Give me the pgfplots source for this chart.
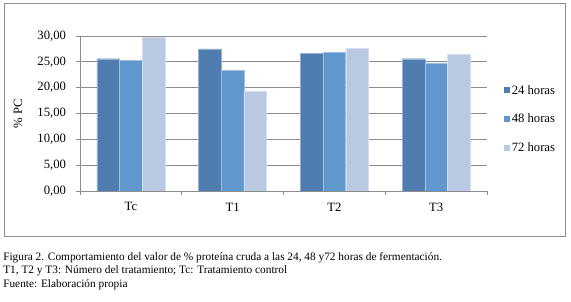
\documentclass[border=0pt]{standalone}
\usepackage{fontspec}
\setmainfont{Liberation Serif}
\usepackage{pgfplots}
\pgfplotsset{compat=1.18}
\definecolor{cA}{HTML}{4F7DB0}
\definecolor{cB}{HTML}{6097CD}
\definecolor{cC}{HTML}{B9C9E1}
\definecolor{gridgray}{HTML}{8C8C8C}
\begin{document}
\begin{tikzpicture}
\path[use as bounding box] (0pt,0pt) rectangle (428.25pt,226.5pt);
\begin{axis}[at={(3.2pt,48.9pt)}, anchor=south west, scale only axis,
  width=421.2pt, height=175.1pt, xmin=0, xmax=1, ymin=0, ymax=1,
  xtick=\empty, ytick=\empty, axis line style={gridgray, line width=0.9pt}]
\addplot[draw=none] coordinates {(0.5,0.5)};
\end{axis}
\begin{axis}[at={(60pt,83.25pt)}, anchor=south west, scale only axis,
  width=305.25pt, height=116.25pt,
  ybar=0pt, bar width=17pt,
  xmin=-0.5, xmax=3.5, ymin=0, ymax=30,
  xtick={0,1,2,3}, xticklabels={Tc,T1,T2,T3},
  major x tick style={draw=none},
  minor xtick={-0.5,0.5,1.5,2.5,3.5},
  ytick={0,5,10,15,20,25,30},
  tick align=outside, major tick length=3pt, minor tick length=3pt,
  axis x line*=bottom, axis y line*=left,
  axis line style={gridgray,line width=0.6pt,-},
  tick style={gridgray, line width=0.6pt},
  ymajorgrids, grid style={gridgray, line width=0.6pt},
  ticklabel style={font=\fontsize{9.5}{11}\selectfont},
  xticklabel style={yshift=-2.25pt},
  yticklabel style={xshift=-4pt, /pgf/number format/.cd, fixed, fixed zerofill, precision=2, use comma, assume math mode=true},
  legend style={at={(1.032,0.461)}, anchor=west, draw=none, fill=none,
    font=\fontsize{9.5}{11}\selectfont, row sep=11.6pt,
    nodes={inner sep=1pt}},
  legend cell align=left,
  legend image code/.code={\fill[#1,draw=none] (0pt,-2.1pt) rectangle (4.6pt,2.5pt);},
]
\addplot[fill=cA, draw=white!40!cA, line width=0.3pt] coordinates {(0,25.6) (1,27.5) (2,26.7) (3,25.6)};
\addplot[fill=cB, draw=white!40!cB, line width=0.3pt] coordinates {(0,25.35) (1,23.4) (2,26.8) (3,24.8)};
\addplot[fill=cC, draw=white!40!cC, line width=0.3pt] coordinates {(0,29.7) (1,19.4) (2,27.6) (3,26.4)};
\legend{24 horas,48 horas,72 horas}
\end{axis}
\node[rotate=90, font=\fontsize{9.5}{11}\selectfont] at (13.5pt,141pt) {\% PC};
\node[anchor=base west, inner sep=0pt, font=\fontsize{8.5}{10}\selectfont] at (2.25pt,30.75pt) {Figura 2. Comportamiento del valor de \% proteína cruda a las 24, 48 y72 horas de fermentación.};
\node[anchor=base west, inner sep=0pt, font=\fontsize{8.5}{10}\selectfont] at (2.25pt,21pt) {T1, T2 y T3: Número del tratamiento; Tc: Tratamiento control};
\node[anchor=base west, inner sep=0pt, font=\fontsize{8.5}{10}\selectfont] at (2.25pt,10.5pt) {Fuente: Elaboración propia};
\end{tikzpicture}
\end{document}
